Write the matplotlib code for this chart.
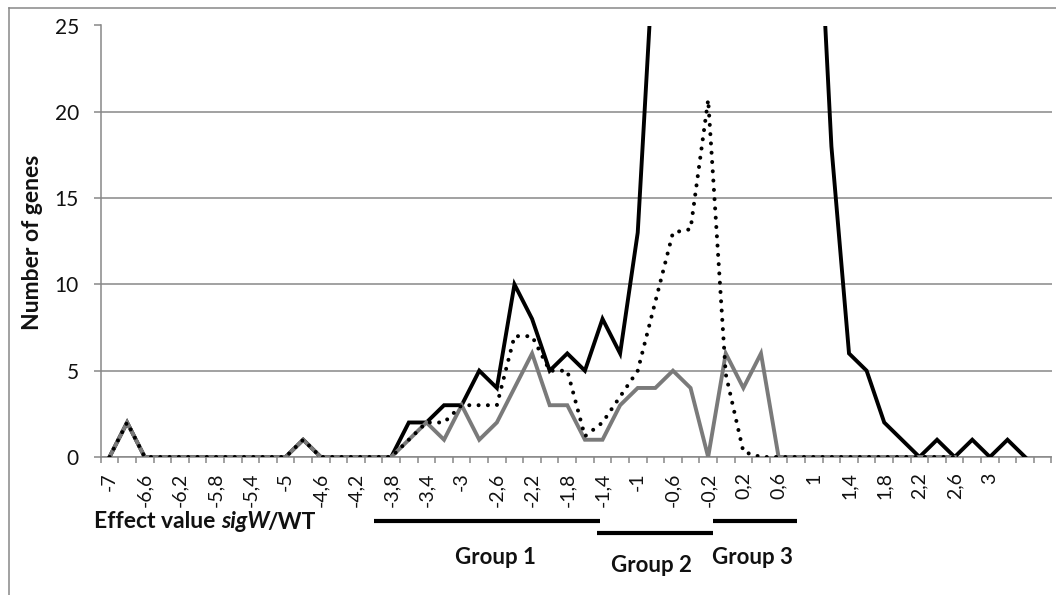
import matplotlib
matplotlib.use("Agg")
import matplotlib.pyplot as plt
import numpy as np
from matplotlib.transforms import blended_transform_factory
from matplotlib.lines import Line2D

# ---------------- data ----------------
categories = ["-7", "-6,8", "-6,6", "-6,4", "-6,2", "-6", "-5,8", "-5,6", "-5,4", "-5,2",
              "-5", "-4,8", "-4,6", "-4,4", "-4,2", "-4", "-3,8", "-3,6", "-3,4", "-3,2",
              "-3", "-2,8", "-2,6", "-2,4", "-2,2", "-2", "-1,8", "-1,6", "-1,4", "-1,2",
              "-1", "-0,8", "-0,6", "-0,4", "-0,2", "0", "0,2", "0,4", "0,6", "0,8",
              "1", "1,2", "1,4", "1,6", "1,8", "2", "2,2", "2,4", "2,6", "2,8",
              "3", "3,2", "3,4", "3,6"]
# labels shown under the axis (every second category)
tick_labels = ["-7", "-6,6", "-6,2", "-5,8", "-5,4", "-5", "-4,6", "-4,2", "-3,8", "-3,4",
               "-3", "-2,6", "-2,2", "-1,8", "-1,4", "-1", "-0,6", "-0,2", "0,2", "0,6",
               "1", "1,4", "1,8", "2,2", "2,6", "3", ""]

nan = np.nan
all_genes = [0, 2, 0, 0, 0, 0, 0, 0, 0, 0,
             0, 1, 0, 0, 0, 0, 0, 2, 2, 3,
             3, 5, 4, 10, 8, 5, 6, 5, 8, 6,
             13, 31, 52, 85, 140, 210, 190, 120, 75, 50,
             38, 18, 6, 5, 2, 1, 0, 1, 0, 1,
             0, 1, 0, nan]
gray_series = [0, 2, 0, 0, 0, 0, 0, 0, 0, 0,
               0, 1, 0, 0, 0, 0, 0, 1, 2, 1,
               3, 1, 2, 4, 6, 3, 3, 1, 1, 3,
               4, 4, 5, 4, 0, 6, 4, 6, 0, 0,
               0, 0, 0, 0, 0, 0, 0, 0, 0, nan,
               nan, nan, nan, nan]
dotted_series = [0, 2, 0, 0, 0, 0, 0, 0, 0, 0,
                 0, 1, 0, 0, 0, 0, 0, 1, 2, 2,
                 3, 3, 3, 7, 7, 5, 5, 1.2, 2.0, 3.5,
                 5.0, 9.0, 13.0, 13.2, 20.7, 4.8, 0.3, 0, 0, 0,
                 0, 0, 0, 0, 0, 0, 0, 0, 0, nan,
                 nan, nan, nan, nan]

groups = ["Group 1", "Group 2", "Group 3"]
group_start = ["-4", "-1,4", "-0,2"]
group_end = ["-1,4", "-0,2", "0,8"]

# ---------------- style ----------------
FONT = ["Lato", "DejaVu Sans"]
plt.rcParams["font.family"] = FONT
GRID = "#878787"
TXT = "#111111"

W, H, DPI = 1056, 595, 100
fig = plt.figure(figsize=(W / DPI, H / DPI), dpi=DPI)
ax = fig.add_axes([100.7 / W, (H - 457) / H, (1051.5 - 100.7) / W, (457 - 25.5) / H])

x = np.arange(len(categories))
ax.plot(x, all_genes, color="black", lw=2.8, solid_joinstyle="miter", zorder=3)
ax.plot(x, gray_series, color="#7a7a7a", lw=2.8, solid_joinstyle="miter", zorder=4)
ax.plot(x, dotted_series, color="black", lw=2.9, linestyle=(0, (0.01, 2.3)),
        dash_capstyle="round", zorder=5)

ax.set_xlim(-0.5, len(categories) - 0.5)
ax.set_ylim(0, 25)
ax.set_yticks([0, 5, 10, 15, 20, 25])
ax.yaxis.grid(True, color=GRID, lw=1.1)
ax.set_axisbelow(True)

ax.set_xticks(x[::2])
ax.set_xticklabels(tick_labels, rotation=90)
ax.set_xticks(np.arange(-0.5, len(categories)), minor=True)
ax.tick_params(axis="x", which="major", length=0, pad=11, labelsize=14, colors=TXT)
ax.tick_params(axis="x", which="minor", length=4.5, width=1.1, color=GRID)
ax.tick_params(axis="y", which="major", length=4.8, width=1.1, color=GRID,
               pad=11, labelsize=15, labelcolor=TXT)

for s in ["top", "right"]:
    ax.spines[s].set_visible(False)
for s in ["left", "bottom"]:
    ax.spines[s].set_color(GRID)
    ax.spines[s].set_linewidth(1.1)
ax.patch.set_alpha(0)

# outer chart frame
fig.add_artist(Line2D([9 / W, 9 / W], [0, (H - 8) / H], transform=fig.transFigure,
                      color=GRID, lw=1.1))
fig.add_artist(Line2D([9 / W, 1], [(H - 8) / H, (H - 8) / H], transform=fig.transFigure,
                      color=GRID, lw=1.1))

# axis titles
fig.text(33 / W, (H - 242) / H, "Number of genes", rotation=90, ha="center", va="center",
         fontsize=16.5, fontweight="bold", color=TXT)

fig.canvas.draw()
renderer = fig.canvas.get_renderer()
xpix = 94
ypix = H - 522
parts = [("Effect value ", "normal", 0), ("sigW", "italic", -2), ("/WT", "normal", 0)]
for txt, style, adj in parts:
    t = fig.text(xpix / W, ypix / H, txt, ha="left", va="center", fontsize=16.5,
                 fontweight="bold", fontstyle=style, color=TXT)
    bb = t.get_window_extent(renderer)
    xpix += bb.width + adj

# group bars
idx = {c: i for i, c in enumerate(categories)}
tr = blended_transform_factory(ax.transData, fig.transFigure)
bar_y = [521, 533, 521]
bar_x0 = [idx[group_start[0]] + 0.0, idx[group_start[1]] - 0.3, idx[group_start[2]] + 0.3]
bar_x1 = [idx[group_end[0]] - 0.16, idx[group_end[1]] + 0.3, idx[group_end[2]] + 0.05]
label_x = [21.9, 30.8, 36.5]
label_y = [558, 566, 558]
for g, x0, x1, by, lx, ly in zip(groups, bar_x0, bar_x1, bar_y, label_x, label_y):
    ax.plot([x0, x1], [(H - by) / H] * 2, transform=tr, color="black", lw=3.0,
            clip_on=False, solid_capstyle="butt")
    ax.text(lx, (H - ly) / H, g, transform=tr, ha="center", va="center",
            fontsize=16, fontweight="bold", color=TXT)

fig.savefig("out.png", dpi=DPI)
